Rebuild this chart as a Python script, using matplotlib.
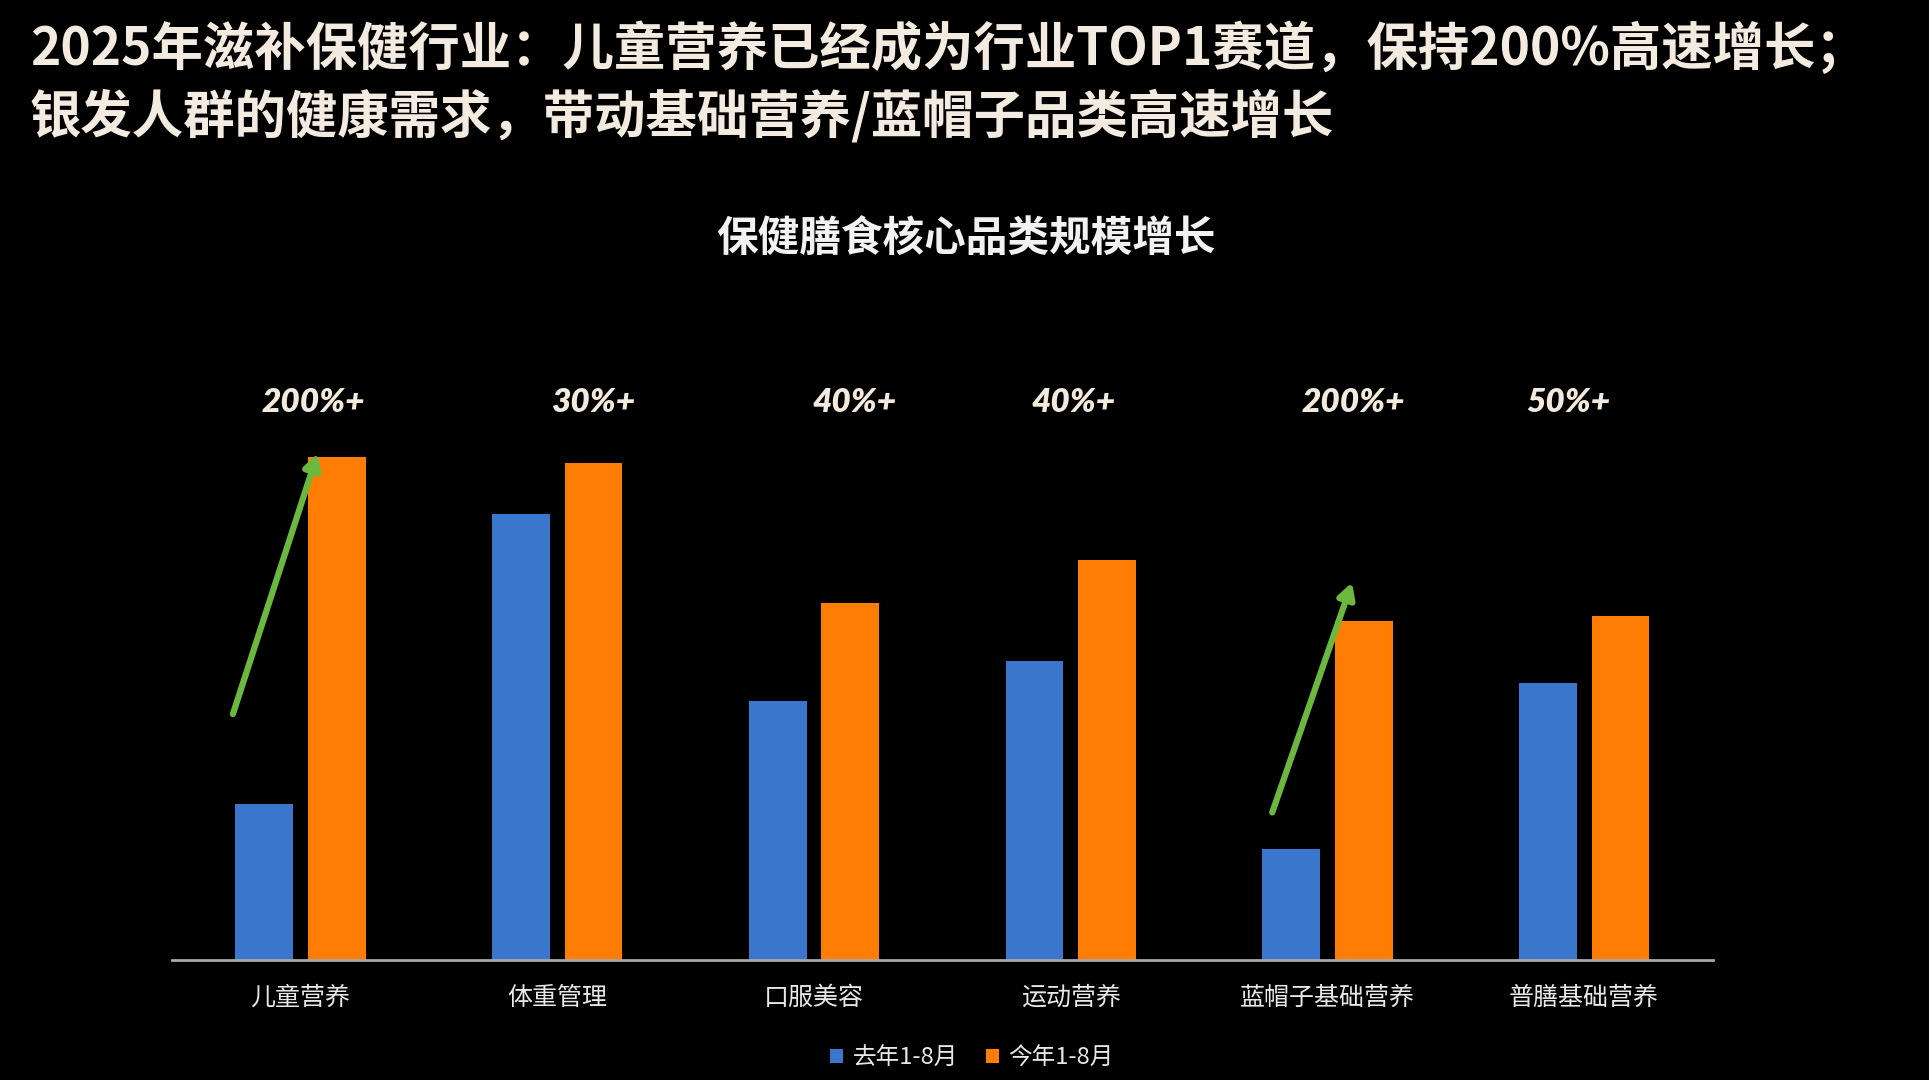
import matplotlib
matplotlib.use("Agg")
import matplotlib.pyplot as plt
from matplotlib.patches import Patch
import numpy as np

plt.rcParams['font.family'] = ['Noto Sans CJK SC', 'DejaVu Sans']

# ---- data ----
categories = ["儿童营养", "体重管理", "口服美容", "运动营养", "蓝帽子基础营养", "普膳基础营养"]
last_year = [127, 363, 211, 243, 90, 225]      # 去年1-8月
this_year = [409, 404, 290, 325, 276, 280]     # 今年1-8月
growth_labels = ["200%+", "30%+", "40%+", "40%+", "200%+", "50%+"]
series_names = ["去年1-8月", "今年1-8月"]

title_lines = ["2025年滋补保健行业：儿童营养已经成为行业TOP1赛道，保持200%高速增长；",
               "银发人群的健康需求，带动基础营养/蓝帽子品类高速增长"]
chart_title = "保健膳食核心品类规模增长"

# ---- layout/style ----
label_x_offsets = [0.05, 0.14, 0.16, 0.01, 0.10, -0.06]
label_y = 453
arrow_cats = [0, 4]
arrow_start = [(-0.263, 200), (-0.215, 120)]
arrow_end = [(0.067, 412), (0.096, 307)]

blue = "#3b76cd"
orange = "#ff7d05"
green = "#6cb83f"
bg = "#000000"

fig = plt.figure(figsize=(19.29, 10.80), dpi=100, facecolor=bg)
ax = fig.add_axes([0.0892, 0.1111, 0.7986, 0.5694], facecolor=bg)

x = np.arange(len(categories))
w = 0.225
off = 0.141
ax.bar(x - off, last_year, width=w, color=blue, label=series_names[0], zorder=2)
ax.bar(x + off, this_year, width=w, color=orange, label=series_names[1], zorder=2)

ax.set_xlim(-0.5, len(categories) - 0.5)
ax.set_ylim(0, 500)
for s in ["top", "right", "left"]:
    ax.spines[s].set_visible(False)
ax.spines["bottom"].set_color("#a8a8a8")
ax.spines["bottom"].set_linewidth(2)
ax.set_yticks([])
ax.set_xticks(x)
ax.set_xticklabels(categories, fontsize=18, color="#e8e8e8")
ax.tick_params(axis="x", length=0, pad=18)

# growth labels
for i, lab in enumerate(growth_labels):
    ax.text(i + label_x_offsets[i], label_y, lab, ha="center", va="center",
            fontsize=24, fontweight="heavy", fontstyle="italic", family="Lato",
            color="#f3e9dc", clip_on=False, zorder=5)

# green arrows
for (sx, sy), (ex, ey), c in zip(arrow_start, arrow_end, arrow_cats):
    ax.annotate("", xy=(c + ex, ey), xytext=(c + sx, sy),
                arrowprops=dict(arrowstyle="-|>,head_length=0.9,head_width=0.5",
                                color=green, lw=4.5, shrinkA=0, shrinkB=0),
                zorder=6, annotation_clip=False)

# titles
fig.text(30 / 1929, 1 - 49 / 1080, title_lines[0], fontsize=37, fontweight="black",
         color="#f4ebe0", ha="left", va="center")
fig.text(30 / 1929, 1 - 117 / 1080, title_lines[1], fontsize=37, fontweight="black",
         color="#f4ebe0", ha="left", va="center")
fig.text(966 / 1929, 1 - 240 / 1080, chart_title, fontsize=30, fontweight="bold",
         color="#f2f2f2", ha="center", va="center")

# legend
handles = [Patch(facecolor=blue), Patch(facecolor=orange)]
fig.legend(handles, series_names, loc="center", bbox_to_anchor=(972 / 1929, 1 - 1058 / 1080),
           ncol=2, frameon=False, fontsize=17, labelcolor="#e8e8e8",
           handlelength=0.55, handleheight=0.55, handletextpad=0.4, columnspacing=1.2)

fig.savefig("out.png", dpi=100, facecolor=bg)
